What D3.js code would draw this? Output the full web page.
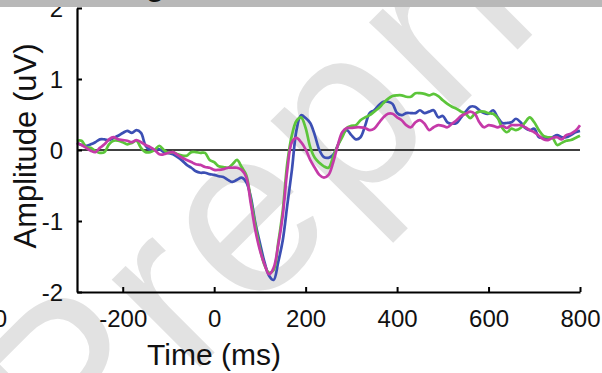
<!DOCTYPE html>
<html>
<head>
<meta charset="utf-8">
<script src="https://cdn.jsdelivr.net/npm/d3@7"></script>
<style>
  html, body { margin: 0; padding: 0; background: #fff; }
  svg { display: block; font-family: "Liberation Sans", Arial, sans-serif; }
</style>
</head>
<body>
<div id="chart"></div>
<script>
// time axis, 10 ms steps from -300 to 800
var times = d3.range(-300, 801, 10);

var blue = [
  0.10, 0.07, 0.06, 0.08, 0.11, 0.15, 0.15, 0.14, 0.17, 0.20,
  0.24, 0.27, 0.24, 0.28, 0.24, 0.06, 0.00, 0.00, 0.01, -0.03,
  -0.04, -0.06, -0.10, -0.15, -0.21, -0.25, -0.30, -0.32, -0.32, -0.34,
  -0.35, -0.37, -0.38, -0.42, -0.45, -0.42, -0.39, -0.45, -0.66, -1.03,
  -1.31, -1.58, -1.77, -1.83, -1.58, -1.27, -0.77, -0.28, 0.28, 0.49,
  0.45, 0.38, 0.21, 0.00, -0.10, -0.11, -0.07, 0.06, 0.21, 0.28,
  0.21, 0.15, 0.18, 0.34, 0.52, 0.56, 0.63, 0.68, 0.68, 0.65,
  0.52, 0.49, 0.52, 0.52, 0.52, 0.56, 0.52, 0.54, 0.56, 0.46,
  0.48, 0.39, 0.37, 0.38, 0.46, 0.54, 0.61, 0.61, 0.56, 0.52,
  0.51, 0.56, 0.46, 0.38, 0.38, 0.39, 0.44, 0.39, 0.31, 0.28,
  0.30, 0.18, 0.17, 0.17, 0.18, 0.21, 0.18, 0.18, 0.21, 0.25,
  0.27
];

var green = [
  0.13, 0.13, 0.04, 0.03, -0.01, -0.04, -0.03, 0.08, 0.13, 0.13,
  0.11, 0.08, 0.10, 0.13, 0.03, -0.03, -0.03, 0.00, 0.06, 0.00,
  -0.04, -0.03, -0.06, -0.08, -0.08, -0.03, -0.03, -0.04, -0.04, -0.14,
  -0.17, -0.23, -0.24, -0.25, -0.20, -0.14, -0.24, -0.35, -0.70, -1.06,
  -1.38, -1.62, -1.73, -1.69, -1.31, -0.85, -0.18, 0.21, 0.41, 0.46,
  0.31, 0.04, -0.11, -0.18, -0.23, -0.25, -0.10, 0.06, 0.18, 0.31,
  0.34, 0.35, 0.42, 0.46, 0.49, 0.54, 0.59, 0.66, 0.72, 0.76,
  0.77, 0.77, 0.75, 0.75, 0.80, 0.80, 0.79, 0.77, 0.79, 0.76,
  0.70, 0.65, 0.61, 0.58, 0.54, 0.51, 0.45, 0.51, 0.54, 0.54,
  0.52, 0.51, 0.45, 0.31, 0.25, 0.30, 0.28, 0.31, 0.39, 0.46,
  0.39, 0.28, 0.20, 0.18, 0.17, 0.07, 0.10, 0.13, 0.14, 0.17,
  0.20
];

var magenta = [
  0.10, 0.07, 0.03, -0.01, -0.03, 0.03, 0.08, 0.15, 0.18, 0.15,
  0.14, 0.13, 0.11, 0.14, 0.11, 0.07, 0.04, 0.00, -0.06, -0.06,
  -0.04, -0.03, -0.07, -0.11, -0.14, -0.17, -0.20, -0.21, -0.24, -0.25,
  -0.28, -0.28, -0.27, -0.25, -0.25, -0.25, -0.28, -0.38, -0.75, -1.13,
  -1.41, -1.61, -1.75, -1.66, -1.34, -0.92, -0.28, 0.11, 0.17, 0.11,
  0.01, -0.14, -0.25, -0.35, -0.39, -0.35, -0.18, 0.06, 0.25, 0.31,
  0.31, 0.32, 0.32, 0.31, 0.28, 0.30, 0.38, 0.46, 0.51, 0.51,
  0.46, 0.42, 0.35, 0.32, 0.39, 0.42, 0.37, 0.28, 0.32, 0.35,
  0.34, 0.32, 0.37, 0.42, 0.48, 0.51, 0.54, 0.51, 0.39, 0.32,
  0.35, 0.34, 0.32, 0.34, 0.31, 0.35, 0.35, 0.35, 0.32, 0.28,
  0.25, 0.20, 0.15, 0.14, 0.17, 0.18, 0.15, 0.21, 0.23, 0.27,
  0.35
];

var xTicks = [-200, 0, 200, 400, 600, 800];
var yTicks = [-2, -1, 0, 1, 2];

var series = [
  { name: "blue", values: blue, color: "#3c4fb4" },
  { name: "green", values: green, color: "#5cc53a" },
  { name: "magenta", values: magenta, color: "#c53aa8" }
];

var width = 602, height = 373;
var margin = { left: 77, right: 22, top: 8, bottom: 81 };

var svg = d3.select("#chart").append("svg")
    .attr("width", width)
    .attr("height", height);

var x = d3.scaleLinear()
    .domain([-300, 800])
    .range([margin.left, width - margin.right]);

var y = d3.scaleLinear()
    .domain([-2, 2])
    .range([height - margin.bottom, margin.top]);

// watermark
svg.append("text")
    .attr("transform", "translate(72,495) rotate(-45)")
    .attr("font-size", 235)
    .attr("letter-spacing", 8)
    .attr("fill", "#e2e2e2")
    .text("Preprint");

// zero line
svg.append("line")
    .attr("x1", x(-300)).attr("x2", x(800))
    .attr("y1", y(0)).attr("y2", y(0))
    .attr("stroke", "#000")
    .attr("stroke-width", 1.3);

var line = d3.line()
    .x(function(d, i) { return x(times[i]); })
    .y(function(d) { return y(d); })
    .curve(d3.curveCatmullRom);

svg.append("g")
    .attr("fill", "none")
    .attr("stroke-width", 2.7)
    .attr("stroke-linejoin", "round")
  .selectAll("path")
  .data(series)
  .enter().append("path")
    .attr("stroke", function(d) { return d.color; })
    .attr("d", function(d) { return line(d.values); });

// axes, ticks pointing inward
var fmt = function(d) { return String(d); };

var xAxis = svg.append("g")
    .attr("transform", "translate(0," + y(-2) + ")")
    .call(d3.axisBottom(x).tickValues(xTicks).tickFormat(fmt)
      .tickSizeInner(-5).tickSizeOuter(0).tickPadding(18));

var yAxis = svg.append("g")
    .attr("transform", "translate(" + x(-300) + ",0)")
    .call(d3.axisLeft(y).tickValues(yTicks).tickFormat(fmt)
      .tickSizeInner(-5).tickSizeOuter(0).tickPadding(14));

[xAxis, yAxis].forEach(function(g) {
  g.select(".domain").attr("stroke", "#000").attr("stroke-width", 2.2);
  g.selectAll(".tick line").attr("stroke", "#000").attr("stroke-width", 2);
  g.selectAll(".tick text")
      .attr("font-size", 24)
      .attr("fill", "#111")
      .attr("font-family", "Liberation Sans, Arial, sans-serif");
});
yAxis.selectAll(".tick text").attr("dy", "0.34em");

// clipped label from the neighbouring panel
svg.append("text")
    .attr("x", 7)
    .attr("y", 327)
    .attr("text-anchor", "end")
    .attr("font-size", 24)
    .attr("fill", "#111")
    .text("0");

// axis titles
svg.append("text")
    .attr("x", 214)
    .attr("y", 365)
    .attr("text-anchor", "middle")
    .attr("font-size", 30)
    .attr("fill", "#111")
    .text("Time (ms)");

svg.append("text")
    .attr("transform", "translate(36,146) rotate(-90)")
    .attr("text-anchor", "middle")
    .attr("font-size", 31)
    .attr("fill", "#111")
    .text("Amplitude (uV)");

// grey strip at the top with the cut-off heading
svg.append("rect")
    .attr("x", 0).attr("y", 0)
    .attr("width", width).attr("height", 7)
    .attr("fill", "#b8b8b8");

svg.append("text")
    .attr("x", 146)
    .attr("y", -4)
    .attr("font-size", 30)
    .attr("font-weight", "bold")
    .attr("fill", "#111")
    .text("g");
</script>
</body>
</html>
